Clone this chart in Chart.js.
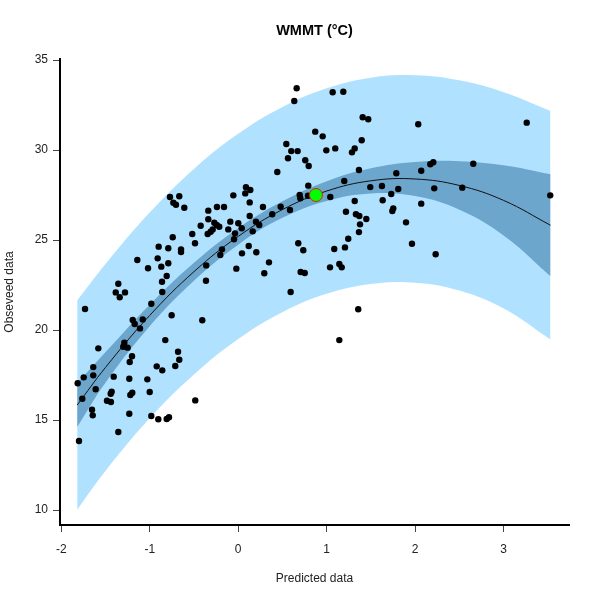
<!DOCTYPE html>
<html><head><meta charset="utf-8">
<script src="https://cdn.jsdelivr.net/npm/chart.js@4.4.0/dist/chart.umd.min.js"></script>
<style>html,body{margin:0;padding:0;background:#fff}#wrap{width:600px;height:600px}</style>
</head><body><div id="wrap"><canvas id="c" width="600" height="600"></canvas></div>
<script>
const chartTitle = 'WMMT (°C)';
const xTitle = 'Predicted data';
const yTitle = 'Obseveed data';
const xTicks = [-2, -1, 0, 1, 2, 3];
const yTicks = [10, 15, 20, 25, 30, 35];

const obsX = [0.661,0.634,1.068,1.188,1.407,1.470,0.871,0.955,1.396,0.544,
0.600,0.672,0.996,1.097,1.317,1.286,0.563,0.758,0.797,0.442,
1.365,0.792,1.199,1.493,1.625,0.088,0.137,0.080,-0.055,-0.771,
-0.666,-0.733,-0.703,-0.609,-0.338,-0.240,-0.160,0.130,0.280,0.480,
0.585,0.385,0.695,0.702,0.789,1.041,1.317,1.633,1.218,1.331,
1.369,1.448,1.377,1.365,1.244,1.207,1.086,0.679,0.736,1.038,
1.143,1.170,0.706,0.752,0.593,1.357,1.143,0.130,-0.338,-0.089,
0.001,0.201,0.238,0.040,-0.112,-0.424,-0.270,-0.243,-0.214,-0.288,
-0.311,-0.345,-0.036,0.164,-0.519,-0.740,-0.488,-0.047,-0.183,-0.202,
0.119,0.043,0.205,-0.899,-0.790,-0.646,-0.646,-0.361,-0.021,0.348,
0.295,-0.364,-1.140,-0.910,-0.790,-0.869,-1.019,-0.808,-0.861,-0.858,
-1.355,-1.384,-1.279,-1.339,-0.982,-1.731,-0.752,-0.406,-1.192,-1.079,
-1.170,-1.110,-0.824,-1.581,-1.287,-1.299,-1.249,-1.200,-1.226,-0.680,
-0.666,-0.711,-0.921,-0.858,-1.638,-1.746,-1.638,-1.814,-1.407,-1.231,
-1.027,-1.611,-1.762,-1.430,-1.441,-1.000,-1.197,-1.219,-1.483,-1.438,
-1.652,-1.644,-1.231,-0.982,-0.903,-0.808,-0.782,-0.485,-1.355,-1.799,
2.035,3.261,2.205,2.171,2.657,2.069,1.787,1.809,1.730,2.216,
2.533,3.527,1.753,1.742,2.069,1.897,1.964,2.232];

const obsY = [33.43,32.72,33.21,33.24,31.82,31.71,31.02,30.76,30.54,30.33,
29.94,29.94,29.98,30.09,30.09,29.87,29.54,29.43,29.11,28.78,
28.89,28.02,28.28,27.94,28.00,27.93,27.78,27.59,27.48,27.39,
27.43,27.07,26.96,26.79,26.63,26.83,26.83,27.09,26.83,26.85,
26.67,26.43,27.50,27.32,27.46,27.39,27.17,27.21,26.57,26.43,
26.33,26.17,25.87,25.44,25.07,24.59,24.50,24.82,24.43,23.48,
23.67,23.48,23.22,23.17,22.11,21.15,19.44,26.33,26.15,26.02,
25.93,26.02,25.83,25.65,25.59,25.79,25.96,25.83,25.74,25.59,
25.46,25.33,25.37,25.48,25.33,25.15,24.82,25.04,24.48,24.17,
24.67,24.26,24.32,24.63,24.54,24.48,24.33,23.59,23.41,23.76,
23.15,22.74,23.89,23.98,23.71,23.52,23.43,23.00,22.68,22.11,
22.57,22.09,22.09,21.82,21.46,21.17,20.82,20.54,20.56,20.59,
20.33,20.09,19.44,18.98,19.29,19.07,19.02,18.54,18.22,18.79,
18.35,18.00,17.98,17.76,17.94,17.37,17.48,17.04,17.41,17.29,
17.26,16.71,16.18,16.57,16.46,16.56,16.52,16.39,16.07,16.00,
15.57,15.26,15.35,15.22,15.04,15.06,15.15,16.09,14.33,13.83,
31.43,31.52,29.32,29.21,29.24,28.85,28.71,27.83,27.56,27.87,
27.91,27.48,26.76,26.61,27.02,25.98,24.79,24.21];

// fitted curve and bands read at these x positions
const fitX    = [-1.82, -1.5, -1.0, -0.5, 0.0, 0.5, 1.0, 1.5, 2.0, 2.5, 3.0, 3.53];
const fitY    = [15.83, 17.92, 20.81, 23.24, 25.20, 26.69, 27.72, 28.29, 28.39, 28.03, 27.20, 25.82];
const ciUpper = [17.05, 18.77, 21.41, 23.74, 25.66, 27.15, 28.27, 28.99, 29.34, 29.38, 29.15, 28.65];
const ciLower = [14.61, 17.07, 20.21, 22.74, 24.74, 26.23, 27.17, 27.59, 27.44, 26.68, 25.25, 22.99];
const piUpper = [21.64, 23.67, 26.53, 28.95, 30.90, 32.39, 33.43, 34.02, 34.15, 33.87, 33.21, 32.17];
const piLower = [10.02, 12.17, 15.10, 17.53, 19.50, 20.99, 22.01, 22.56, 22.63, 22.19, 21.19, 19.47];

const highlightX = [0.879];
const highlightY = [27.5];

const FONT = "'Liberation Sans', Arial, Helvetica, sans-serif";
const pts = (xs, ys) => xs.map((x, i) => ({x: x, y: ys[i]}));

new Chart(document.getElementById('c'), {
  type: 'scatter',
  data: {
    datasets: [
      {type:'line', data: pts(fitX, piLower), borderWidth:0, pointRadius:0, fill:false, tension:0.4, order:5},
      {type:'line', data: pts(fitX, piUpper), borderWidth:0, pointRadius:0, fill:{target:0}, backgroundColor:'#B0E2FF', tension:0.4, order:4},
      {type:'line', data: pts(fitX, ciLower), borderWidth:0, pointRadius:0, fill:false, tension:0.4, order:3.5},
      {type:'line', data: pts(fitX, ciUpper), borderWidth:0, pointRadius:0, fill:{target:2}, backgroundColor:'#6CA6CD', tension:0.4, order:3},
      {type:'line', data: pts(fitX, fitY), borderColor:'#111', borderWidth:1, pointRadius:0, fill:false, tension:0.4, order:2},
      {data: pts(obsX, obsY), pointRadius:3.2, pointBackgroundColor:'#000', pointBorderWidth:0, order:1},
      {data: pts(highlightX, highlightY), pointRadius:6.5, pointBackgroundColor:'#00FF00', pointBorderColor:'#E02000', pointBorderWidth:1, order:0}
    ]
  },
  options: {
    responsive:false, animation:false, devicePixelRatio:1,
    layout:{padding:{left:0, right:31, top:0, bottom:0}},
    plugins:{
      legend:{display:false}, tooltip:{enabled:false},
      title:{display:true, fullSize:false, text:chartTitle, color:'#000', font:{family:FONT, size:14.5, weight:'bold', lineHeight:1.2}, padding:{top:22, bottom:19.6}}
    },
    scales:{
      x:{type:'linear', min:-2.014, max:3.739,
        afterBuildTicks: s => { s.ticks = xTicks.map(v => ({value:v})); },
        afterFit: s => { s.height = 75; },
        grid:{drawOnChartArea:false, drawTicks:true, tickLength:7, color:'#444', lineWidth:1},
        border:{display:true, color:'#000', width:2},
        ticks:{color:'#222', padding:10, font:{family:FONT, size:12}, maxRotation:0},
        title:{display:true, text:xTitle, color:'#222', font:{family:FONT, size:12}, padding:{top:0, bottom:14}}
      },
      y:{type:'linear', min:9.167, max:35.056,
        afterBuildTicks: s => { s.ticks = yTicks.map(v => ({value:v})); },
        afterFit: s => { s.width = 60; },
        grid:{drawOnChartArea:false, drawTicks:true, tickLength:7, color:'#444', lineWidth:1},
        border:{display:true, color:'#000', width:2},
        ticks:{color:'#222', padding:5, font:{family:FONT, size:12}},
        title:{display:true, text:yTitle, color:'#222', font:{family:FONT, size:12}, padding:{top:2.8, bottom:0}}
      }
    }
  }
});
</script>
</body></html>
